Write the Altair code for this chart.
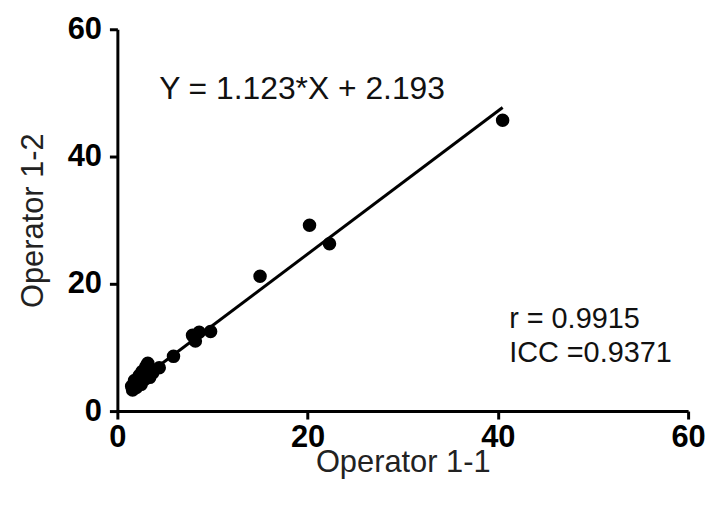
import altair as alt
import pandas as pd

# Data
op11 = [40.5, 20.2, 22.3, 15.0, 9.8, 8.6, 7.9, 8.2, 5.9, 4.4, 3.7, 3.2, 3.0, 2.6,
        3.4, 2.9, 2.3, 2.1, 1.6, 1.5, 2.0, 2.5, 1.8]
op12 = [45.7, 29.2, 26.3, 21.2, 12.5, 12.4, 11.9, 11.0, 8.6, 6.8, 6.0, 7.5, 7.0, 6.2,
        5.3, 5.0, 5.6, 4.5, 3.3, 3.9, 3.7, 4.2, 4.8]
fit_x = [1.5, 40.5]
fit_y = [3.9, 47.7]
ticks = [0, 20, 40, 60]
equation = "Y = 1.123*X + 2.193"
stats = ["r = 0.9915", "ICC =0.9371"]

FONT = "Liberation Sans"

pts = pd.DataFrame({"x": op11, "y": op12})
fit = pd.DataFrame({"x": fit_x, "y": fit_y})

xscale = alt.Scale(domain=[0, 60], nice=False, zero=True)
yscale = alt.Scale(domain=[0, 60], nice=False, zero=True)

common = dict(values=ticks, grid=False, labelFlush=False,
              domainColor="black", domainWidth=3, tickColor="black", tickWidth=3,
              tickSize=8, labelFont=FONT, labelFontSize=31, labelFontWeight="bold",
              labelColor="black", titleFont=FONT, titleFontSize=31,
              titleFontWeight="normal", titleColor="#222")
xaxis = alt.Axis(title="Operator 1-1", titlePadding=-5, labelPadding=4, **common)
yaxis = alt.Axis(title="Operator 1-2", titlePadding=18, labelPadding=8, **common)

points = alt.Chart(pts).mark_circle(size=185, color="black", opacity=1).encode(
    x=alt.X("x:Q", scale=xscale, axis=xaxis),
    y=alt.Y("y:Q", scale=yscale, axis=yaxis),
)

line = alt.Chart(fit).mark_line(color="black", strokeWidth=3).encode(
    x=alt.X("x:Q", scale=xscale),
    y=alt.Y("y:Q", scale=yscale),
)

def label(txt, px, py, size):
    return alt.Chart(pd.DataFrame({"t": [txt]})).mark_text(
        font=FONT, fontSize=size, align="left", baseline="alphabetic", color="#111"
    ).encode(text="t:N", x=alt.value(px), y=alt.value(py))

eq = label(equation, 42, 70, 32)
st1 = label(stats[0], 394, 300, 29)
st2 = label(stats[1], 394, 335, 29)

chart = alt.layer(line, points, eq, st1, st2).properties(
    width=574, height=384,
    autosize=alt.AutoSizeParams(type="none"),
    padding={"left": 110, "top": 20, "right": 19, "bottom": 80},
    background="white",
).configure_view(strokeWidth=0, stroke=None)

chart.save("out.html", embed_options={"renderer": "svg", "actions": False})
